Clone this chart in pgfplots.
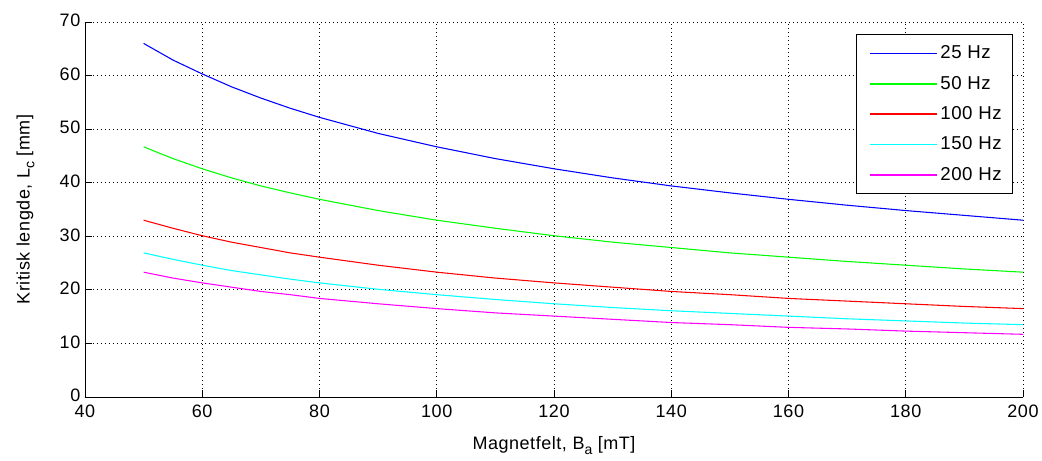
\documentclass[border=0pt]{standalone}
\usepackage{pgfplots}
\pgfplotsset{compat=1.18}
\usepackage{fontspec}
\setmainfont{Liberation Sans}[LetterSpace=3]
\usetikzlibrary{calc}
\definecolor{mblue}{rgb}{0,0,1}
\definecolor{mgreen}{rgb}{0,1,0}
\definecolor{mred}{rgb}{1,0,0}
\definecolor{mcyan}{rgb}{0,1,1}
\definecolor{mmag}{rgb}{1,0,1}
\newcommand\sub[1]{\raisebox{-0.5ex}{\fontsize{10.5}{10.5}\selectfont #1}}
\begin{document}
\begin{tikzpicture}
\begin{axis}[
  name=ax,
  scale only axis,
  width=703.5pt, height=281.25pt,
  xmin=40, xmax=200, ymin=0, ymax=70,
  xtick={40,60,...,200}, ytick={0,10,...,70},
  axis x line*=bottom, axis y line*=left,
  tick align=inside,
  major tick length=5pt,
  tick style={black, line width=0.6pt},
  axis line style={black, line width=0.6pt, -},
  grid=major,
  major grid style={black, line width=0.6pt, dash pattern=on 0.75pt off 2.25pt},
  font=\fontsize{13.5}{16}\selectfont,
  /pgf/number format/assume math mode=true,
  ticklabel style={font=\fontsize{13.5}{16}\selectfont},
  xticklabel style={yshift=-2.5pt},
  yticklabel style={yshift=1pt},
  xlabel={Magnetfelt, B\sub{a} [mT]},
  ylabel={Kritisk lengde, L\sub{c} [mm]},
  xlabel style={yshift=-7pt},
  ylabel style={yshift=12pt},
  legend cell align=left,
  legend style={at={(0.9893,0.968)}, anchor=north east, draw=black, line width=0.8pt,
    font=\fontsize{14}{16}\selectfont, inner xsep=6pt, inner ysep=6.5pt,
    row sep=7.5pt,
    /tikz/every even column/.append style={column sep=6pt}},
  legend image code/.code={\path (-4pt,0pt); \draw[#1, line width=1.2pt] (0pt,0pt) -- (50pt,0pt);},
  every axis plot/.append style={line width=0.8pt},
]
\addplot[color=mblue] coordinates {(50,66.0)(55,62.9)(60,60.3)(65,57.9)(70,55.8)(75,53.9)(80,52.2)(90,49.2)(100,46.7)(110,44.5)(120,42.6)(130,40.9)(140,39.4)(150,38.1)(160,36.9)(170,35.8)(180,34.8)(190,33.9)(200,33.0)};
\addplot[color=mgreen] coordinates {(50,46.7)(55,44.5)(60,42.6)(65,40.9)(70,39.4)(75,38.1)(80,36.9)(90,34.8)(100,33.0)(110,31.5)(120,30.1)(130,28.9)(140,27.9)(150,26.9)(160,26.1)(170,25.3)(180,24.6)(190,23.9)(200,23.3)};
\addplot[color=mred] coordinates {(50,33.0)(55,31.5)(60,30.1)(65,28.9)(70,27.9)(75,26.9)(80,26.1)(90,24.6)(100,23.3)(110,22.2)(120,21.3)(130,20.5)(140,19.7)(150,19.1)(160,18.4)(170,17.9)(180,17.4)(190,16.9)(200,16.5)};
\addplot[color=mcyan] coordinates {(50,26.9)(55,25.7)(60,24.6)(65,23.6)(70,22.8)(75,22.0)(80,21.3)(90,20.1)(100,19.1)(110,18.2)(120,17.4)(130,16.7)(140,16.1)(150,15.6)(160,15.1)(170,14.6)(180,14.2)(190,13.8)(200,13.5)};
\addplot[color=mmag] coordinates {(50,23.3)(55,22.2)(60,21.3)(65,20.5)(70,19.7)(75,19.1)(80,18.4)(90,17.4)(100,16.5)(110,15.7)(120,15.1)(130,14.5)(140,13.9)(150,13.5)(160,13.0)(170,12.7)(180,12.3)(190,12.0)(200,11.7)};
\legend{25 Hz, 50 Hz, 100 Hz, 150 Hz, 200 Hz}
\end{axis}
\pgfresetboundingbox
\path[use as bounding box] ($(ax.south west)+(-63.75pt,-48pt)$) rectangle ($(ax.north east)+(14.25pt,16.5pt)$);
\end{tikzpicture}
\end{document}
